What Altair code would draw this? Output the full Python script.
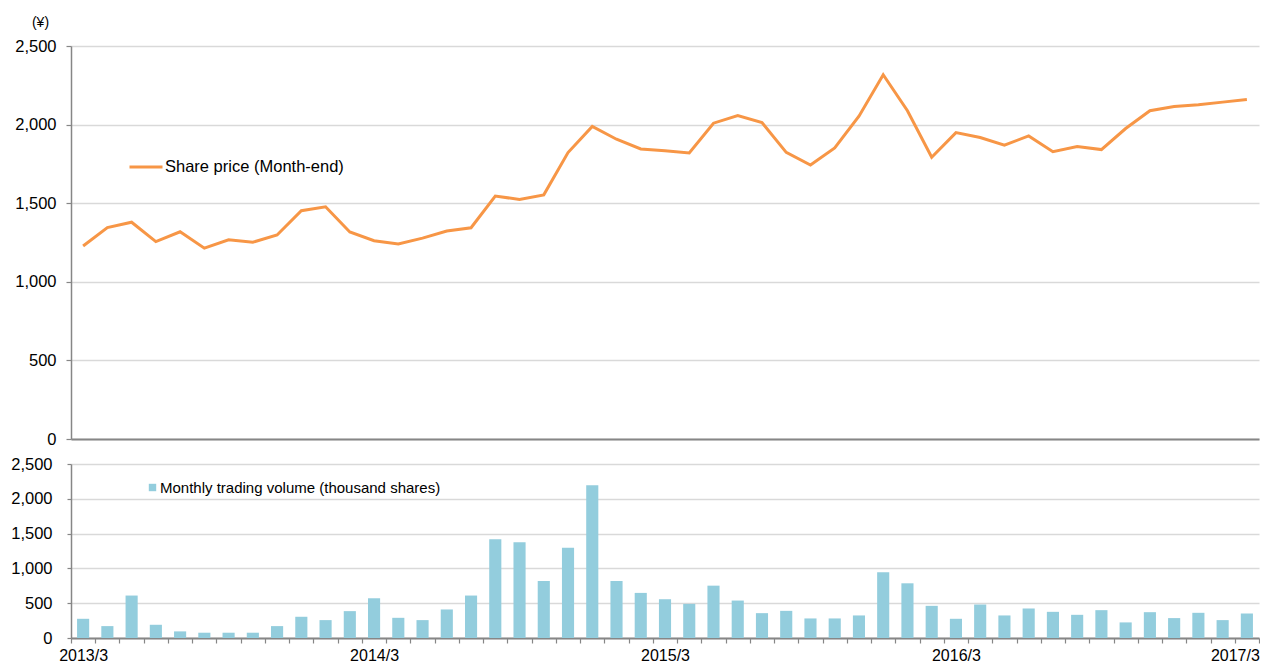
import altair as alt
import pandas as pd

months = [
    "2013/3", "2013/4", "2013/5", "2013/6", "2013/7", "2013/8", "2013/9", "2013/10", "2013/11", "2013/12",
    "2014/1", "2014/2", "2014/3", "2014/4", "2014/5", "2014/6", "2014/7", "2014/8", "2014/9", "2014/10",
    "2014/11", "2014/12", "2015/1", "2015/2", "2015/3", "2015/4", "2015/5", "2015/6", "2015/7", "2015/8",
    "2015/9", "2015/10", "2015/11", "2015/12", "2016/1", "2016/2", "2016/3", "2016/4", "2016/5", "2016/6",
    "2016/7", "2016/8", "2016/9", "2016/10", "2016/11", "2016/12", "2017/1", "2017/2", "2017/3",
]

share_price = [
    1228, 1345, 1379, 1256, 1318, 1214, 1267, 1252, 1298, 1452,
    1477, 1317, 1261, 1240, 1278, 1323, 1344, 1545, 1524, 1553,
    1822, 1988, 1907, 1845, 1833, 1819, 2009, 2058, 2013, 1823,
    1743, 1851, 2053, 2317, 2088, 1792, 1949, 1918, 1869, 1928,
    1828, 1860, 1841, 1975, 2088, 2115, 2127, 2143, 2159,
]

volume = [
    276, 171, 610, 190, 95, 76, 76, 76, 171, 305,
    257, 386, 571, 290, 257, 410, 610, 1419, 1376, 819,
    1295, 2195, 819, 648, 557, 490, 752, 538, 357, 390,
    281, 281, 324, 943, 786, 462, 276, 481, 324, 424,
    376, 333, 400, 224, 371, 286, 362, 257, 352,
]

x_labels = ["2013/3", "2014/3", "2015/3", "2016/3", "2017/3"]

price_label = "Share price (Month-end)"
volume_label = "Monthly trading volume (thousand shares)"
y_ticks = [0, 500, 1000, 1500, 2000, 2500]

df = pd.DataFrame({"month": months, "price": share_price, "volume": volume})

AXIS_GRAY = "#868686"
GRID = "#d9d9d9"
FONT = "Liberation Sans"

label_expr = " || ".join(f"datum.label == '{m}'" for m in x_labels) + " ? datum.label : ''"
last_label = x_labels[-1]

band = alt.Scale(type="band", paddingInner=0, paddingOuter=0)

top = (
    alt.Chart(df)
    .transform_calculate(series=f"'{price_label}'")
    .mark_line(strokeWidth=3)
    .encode(
        x=alt.X(
            "month:O", sort=months, scale=band, bandPosition=0.5,
            axis=alt.Axis(title=None, labels=False, ticks=False, domain=True,
                          domainColor=AXIS_GRAY, domainWidth=2, grid=False),
        ),
        y=alt.Y(
            "price:Q", scale=alt.Scale(domain=[0, 2500], nice=False),
            axis=alt.Axis(values=y_ticks, format=",.0f", title="(¥)", titleAngle=0,
                          titleAlign="center", titleBaseline="middle",
                          titleX=-31, titleY=-24, titleFontSize=14,
                          titleFontWeight="normal", titleFont=FONT,
                          tickSize=5, labelPadding=10),
        ),
        color=alt.Color(
            "series:N",
            scale=alt.Scale(domain=[price_label], range=["#F79646"]),
            legend=alt.Legend(orient="none", legendX=57, legendY=103, title=None,
                              symbolType="stroke", symbolSize=1089, symbolStrokeWidth=3,
                              labelFontSize=16.5, labelOffset=1, padding=0, labelLimit=600),
        ),
    )
    .properties(width=1188, height=393)
)

bottom = (
    alt.Chart(df)
    .transform_calculate(series=f"'{volume_label}'")
    .mark_bar(width=alt.RelativeBandSize(0.5))
    .encode(
        x=alt.X(
            "month:O", sort=months, scale=band,
            axis=alt.Axis(title=None, tickBand="extent", labelAngle=0,
                          labelExpr=label_expr, labelFontSize=16,
                          labelOffset={"condition": {"test": f"datum.label == '{last_label}'", "value": -12}, "value": 0},
                          tickSize=5, tickColor=AXIS_GRAY, domainColor=AXIS_GRAY,
                          domainWidth=2, labelPadding=4, grid=False),
        ),
        y=alt.Y(
            "volume:Q", scale=alt.Scale(domain=[0, 2500], nice=False),
            axis=alt.Axis(values=y_ticks, format=",.0f", title=None, tickSize=4, labelPadding=15),
        ),
        color=alt.Color(
            "series:N",
            scale=alt.Scale(domain=[volume_label], range=["#93CDDD"]),
            legend=alt.Legend(orient="none", legendX=74, legendY=16, title=None,
                              symbolType="square", symbolSize=55, labelFontSize=15,
                              labelOffset=0, padding=0, labelLimit=600),
        ),
    )
    .properties(width=1188, height=174)
)

chart = (
    alt.vconcat(top, bottom, spacing=8)
    .resolve_scale(color="independent")
    .resolve_legend(color="independent")
    .properties(padding={"left": 2, "top": 7, "right": 0, "bottom": 0})
    .configure(font=FONT)
    .configure_view(stroke=None)
    .configure_axis(
        labelFont=FONT, labelFontSize=16.5, labelColor="#000000",
        domainColor=AXIS_GRAY, domainWidth=1.5, tickColor=AXIS_GRAY, tickWidth=1.2,
        gridColor=GRID, gridWidth=1.5,
    )
    .configure_legend(labelFont=FONT, labelColor="#000000")
)

chart.save("out.html", embed_options={"renderer": "svg", "actions": False})
